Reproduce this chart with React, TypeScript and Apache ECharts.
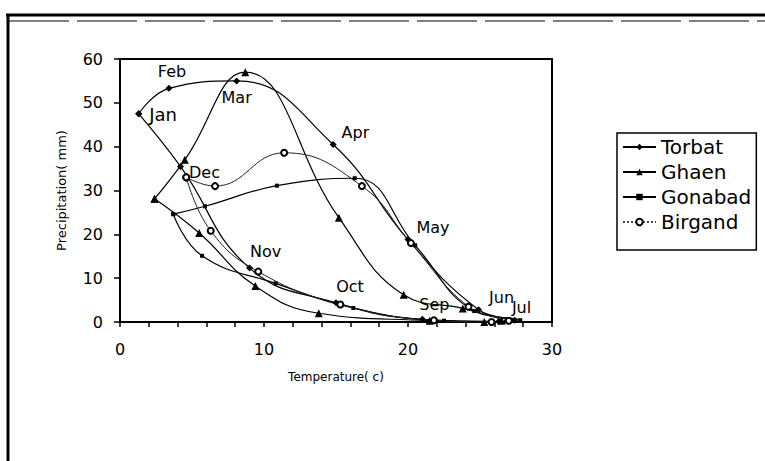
import React, { useEffect, useRef } from "react";
import * as echarts from "echarts";

const months = ["Jan", "Feb", "Mar", "Apr", "May", "Jun", "Jul", "Aug", "Sep", "Oct", "Nov", "Dec"];

// Temperature (°C) and precipitation (mm) per month
const torbatTemp = [1.3, 3.4, 8.1, 14.8, 20.0, 24.9, 27.4, 26.3, 21.0, 15.0, 9.0, 4.2];
const torbatPrec = [47.5, 53.3, 55.0, 40.5, 18.8, 2.8, 0.4, 0.1, 0.6, 4.4, 12.3, 35.5];

const ghaenTemp = [2.4, 4.5, 8.7, 15.2, 19.7, 23.8, 26.5, 25.3, 21.5, 13.8, 9.4, 5.5];
const ghaenPrec = [28.1, 37.0, 57.0, 23.8, 6.2, 3.1, 0.3, 0.0, 0.3, 2.0, 8.2, 20.3];

const gonabadTemp = [3.7, 5.9, 10.9, 16.3, 20.5, 24.6, 27.8, 26.8, 22.5, 16.2, 10.8, 5.7];
const gonabadPrec = [24.6, 26.4, 31.1, 32.8, 17.5, 2.5, 0.4, 0.1, 0.3, 3.2, 8.8, 15.1];

const birgandTemp = [4.6, 6.6, 11.4, 16.8, 20.2, 24.2, 27.0, 25.8, 21.8, 15.3, 9.6, 6.3];
const birgandPrec = [33.0, 31.0, 38.6, 31.0, 18.0, 3.5, 0.3, 0.0, 0.4, 4.0, 11.5, 20.8];

const xTicks = [0, 10, 20, 30];
const yTicks = [0, 10, 20, 30, 40, 50, 60];

const seriesNames = ["Torbat", "Ghaen", "Gonabad", "Birgand"];

// label placement for month names (style only)
const labelPlace: Record<string, { position: string; offset: [number, number]; fontSize?: number }> = {
  Jan: { position: "right", offset: [2, 1], fontSize: 18 },
  Feb: { position: "top", offset: [3, 0] },
  Mar: { position: "bottom", offset: [0, 0] },
  Apr: { position: "right", offset: [0, -12] },
  May: { position: "right", offset: [0, -12] },
  Jun: { position: "right", offset: [2, -12] },
  Jul: { position: "top", offset: [7, 4] },
  Sep: { position: "top", offset: [12, 2] },
  Oct: { position: "top", offset: [14, 0] },
  Nov: { position: "top", offset: [16, 0] },
  Dec: { position: "right", offset: [0, 6] },
};

const FONT = "DejaVu Sans";

function buildData(temp: number[], prec: number[], withLabels: boolean) {
  const d: any[] = months.map((m, i) => {
    const item: any = { value: [temp[i], prec[i]] };
    if (withLabels && labelPlace[m]) {
      const lp = labelPlace[m];
      item.label = {
        show: true,
        formatter: m,
        position: lp.position,
        offset: lp.offset,
        fontSize: lp.fontSize || 16,
        fontFamily: FONT,
        color: "#000",
      };
    }
    return item;
  });
  d.push({ value: [temp[0], prec[0]] });
  return d;
}

export default function App() {
  const ref = useRef<HTMLDivElement>(null);
  useEffect(() => {
    document.body.style.margin = "0";
    if (!ref.current) return;
    const chart = echarts.init(ref.current, null, { renderer: "svg" });
    const baseLine = { color: "#000", width: 1.2 };
    const option: any = {
      animation: false,
      backgroundColor: "#fff",
      grid: {
        left: 120,
        top: 59,
        width: 432,
        height: 263,
        show: true,
        borderColor: "#000",
        borderWidth: 2,
        backgroundColor: "transparent",
      },
      legend: {
        orient: "vertical",
        left: 617,
        top: 133,
        padding: [4, 5, 18, 5],
        itemGap: 5,
        itemWidth: 33,
        itemHeight: 8,
        borderColor: "#000",
        borderWidth: 1.5,
        textStyle: { fontFamily: FONT, fontSize: 20, color: "#000", lineHeight: 20 },
        data: [
          { name: "Torbat" },
          { name: "Ghaen" },
          { name: "Gonabad" },
          { name: "Birgand", lineStyle: { type: "dotted", color: "#444" } },
        ],
      },
      xAxis: {
        type: "value",
        min: xTicks[0],
        max: xTicks[xTicks.length - 1],
        interval: 10,
        name: "Temperature( c)",
        nameLocation: "middle",
        nameGap: 49,
        nameTextStyle: { fontFamily: FONT, fontSize: 12, color: "#000" },
        axisLine: { show: true, onZero: false, lineStyle: { color: "#000", width: 2 } },
        axisTick: { show: true, inside: false, length: 5, lineStyle: { color: "#000", width: 1.5 } },
        minorTick: { show: true, splitNumber: 5, length: 5, lineStyle: { color: "#000", width: 1.5 } },
        axisLabel: { fontFamily: FONT, fontSize: 16, color: "#000", margin: 19 },
        splitLine: { show: false },
      },
      yAxis: {
        type: "value",
        min: yTicks[0],
        max: yTicks[yTicks.length - 1],
        interval: 10,
        name: "Precipitation( mm)",
        nameLocation: "middle",
        nameGap: 52,
        nameTextStyle: { fontFamily: FONT, fontSize: 13, color: "#000" },
        axisLine: { show: true, lineStyle: { color: "#000", width: 2 } },
        axisTick: { show: true, inside: false, length: 6, lineStyle: { color: "#000", width: 1.5 } },
        axisLabel: { fontFamily: FONT, fontSize: 16, color: "#000", margin: 17 },
        splitLine: { show: false },
      },
      series: [
        {
          name: seriesNames[0],
          type: "line",
          smooth: 0.45,
          symbol: "diamond",
          symbolSize: 7,
          itemStyle: { color: "#000" },
          lineStyle: baseLine,
          data: buildData(torbatTemp, torbatPrec, true),
        },
        {
          name: seriesNames[1],
          type: "line",
          smooth: 0.45,
          symbol: "triangle",
          symbolSize: 8,
          itemStyle: { color: "#000" },
          lineStyle: baseLine,
          data: buildData(ghaenTemp, ghaenPrec, false),
        },
        {
          name: seriesNames[2],
          type: "line",
          smooth: 0.45,
          symbol: "rect",
          symbolSize: 4,
          itemStyle: { color: "#000" },
          lineStyle: baseLine,
          data: buildData(gonabadTemp, gonabadPrec, false),
        },
        {
          name: seriesNames[3],
          type: "line",
          smooth: 0.45,
          symbol: "emptyCircle",
          symbolSize: 6,
          itemStyle: { color: "#000", borderColor: "#000", borderWidth: 1 },
          lineStyle: { color: "#222", width: 1 },
          data: buildData(birgandTemp, birgandPrec, false),
        },
      ],
      graphic: [
        { type: "line", shape: { x1: 8, y1: 14, x2: 8, y2: 461 }, style: { stroke: "#000", lineWidth: 3 } },
        { type: "line", shape: { x1: 6, y1: 15, x2: 765, y2: 15 }, style: { stroke: "#000", lineWidth: 3 } },
        { type: "line", shape: { x1: 9, y1: 21, x2: 765, y2: 21 }, style: { stroke: "#000", lineWidth: 1, lineDash: [60, 8] } },
      ],
    };
    chart.setOption(option);
    return () => chart.dispose();
  }, []);
  return <div ref={ref} style={{ width: 765, height: 461 }} />;
}
